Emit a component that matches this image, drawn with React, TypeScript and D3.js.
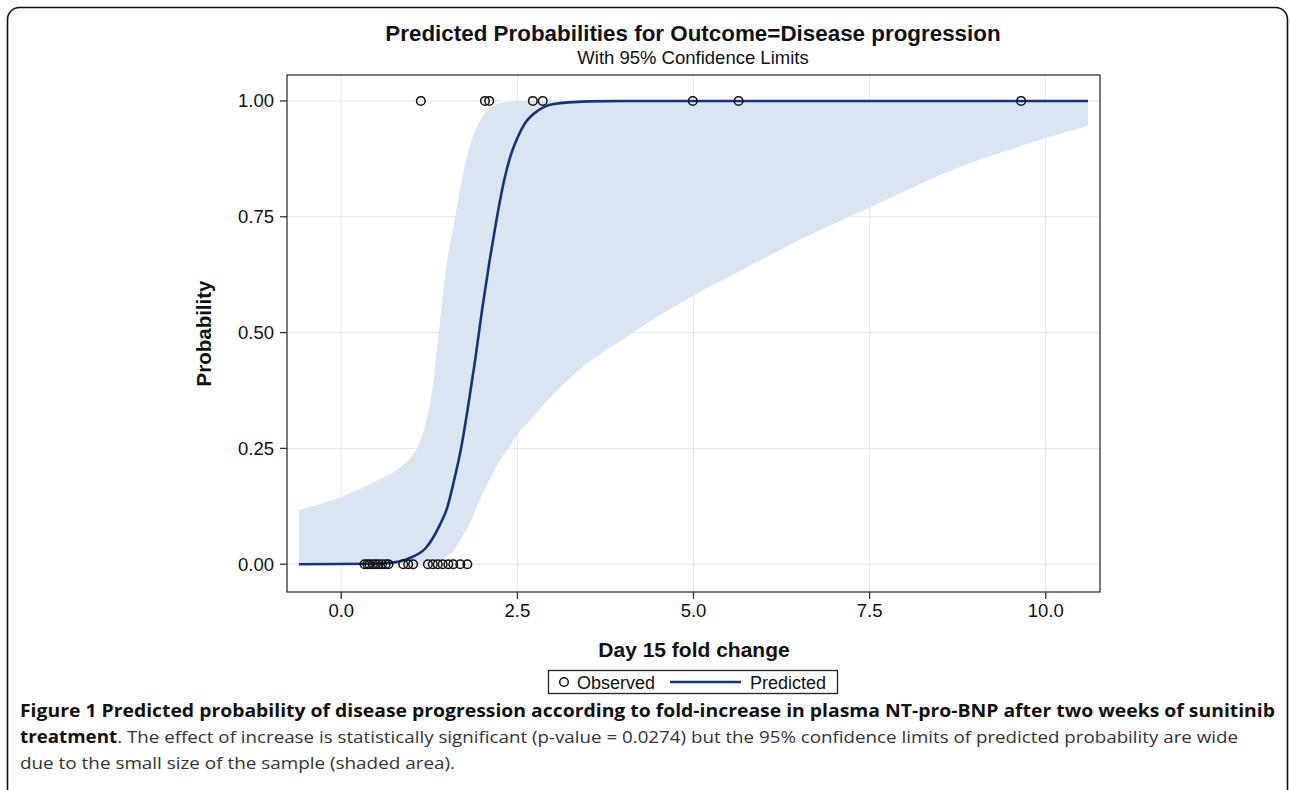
import React from "react";
import * as d3 from "d3";

const xTicks = [0, 2.5, 5, 7.5, 10];
const xTickLabels = ["0.0", "2.5", "5.0", "7.5", "10.0"];
const yTicks = [0, 0.25, 0.5, 0.75, 1];
const yTickLabels = ["0.00", "0.25", "0.50", "0.75", "1.00"];

const obsZeroX = [0.33, 0.37, 0.40, 0.45, 0.49, 0.53, 0.58, 0.63, 0.67, 0.88, 0.95, 1.02, 1.23, 1.30, 1.37, 1.44, 1.52, 1.59, 1.69, 1.79];
const obsOneX = [1.13, 2.04, 2.10, 2.72, 2.86, 4.99, 5.64, 9.65];

const predX = [-0.6, 0.5, 0.8, 1.0, 1.2, 1.4, 1.5, 1.6, 1.7, 1.8, 1.9, 2.0, 2.1, 2.2, 2.3, 2.4, 2.5, 2.6, 2.8, 3.0, 3.5, 4.0, 10.6];
const predP = [0.0, 0.001, 0.005, 0.015, 0.035, 0.085, 0.12, 0.18, 0.25, 0.34, 0.44, 0.55, 0.65, 0.74, 0.82, 0.88, 0.92, 0.95, 0.98, 0.993, 0.999, 1.0, 1.0];

const upperX = [-0.6, 0.0, 0.5, 0.8, 1.0, 1.1, 1.2, 1.3, 1.37, 1.45, 1.5, 1.61, 1.7, 1.8, 1.9, 2.0, 2.1, 2.2, 2.4, 2.7, 10.6];
const upperP = [0.117, 0.145, 0.18, 0.205, 0.233, 0.258, 0.305, 0.385, 0.48, 0.59, 0.65, 0.745, 0.82, 0.89, 0.935, 0.965, 0.983, 0.993, 0.998, 1.0, 1.0];

const lowerX = [-0.6, 1.2, 1.4, 1.6, 1.8, 2.0, 2.2, 2.5, 3.0, 3.5, 4.0, 4.5, 5.0, 5.5, 6.0, 6.5, 7.0, 7.5, 8.0, 8.5, 9.0, 9.5, 10.0, 10.6];
const lowerP = [0.0, 0.0, 0.005, 0.03, 0.08, 0.15, 0.21, 0.28, 0.365, 0.435, 0.485, 0.535, 0.58, 0.62, 0.66, 0.70, 0.735, 0.77, 0.805, 0.84, 0.87, 0.895, 0.92, 0.946];

export default function App() {
  const L = 287, R = 1100, T = 75, B = 592;
  const x = d3.scaleLinear().domain([-0.77, 10.77]).range([L, R]);
  const y = d3.scaleLinear().domain([-0.06, 1.056]).range([B, T]);

  const upperFn = d3.scaleLinear().domain(upperX).range(upperP);
  const lowerFn = d3.scaleLinear().domain(lowerX).range(lowerP);
  const allX = Array.from(new Set([...upperX, ...lowerX])).sort((a, b) => a - b);
  const band = allX.map((v) => ({ x: v, lo: lowerFn(v), hi: upperFn(v) }));

  const area = d3
    .area<{ x: number; lo: number; hi: number }>()
    .x((d) => x(d.x))
    .y0((d) => y(d.lo))
    .y1((d) => y(d.hi))
    .curve(d3.curveMonotoneX);

  const line = d3
    .line<number>()
    .x((_, i) => x(predX[i]))
    .y((d) => y(d))
    .curve(d3.curveMonotoneX);

  const font = "'Liberation Sans', Arial, sans-serif";
  const capFont = "'Open Sans', sans-serif";

  return (
    <svg width={1290} height={790} style={{ position: "absolute", left: 0, top: 0 }} fontFamily={font}>
      <rect x={0} y={0} width={1290} height={790} fill="#fff" />
      <rect x={7.5} y={7.5} width={1280} height={800} rx={12} fill="none" stroke="#111" strokeWidth={1.6} />

      <text x={693} y={41} textAnchor="middle" fontSize={22.4} fontWeight="bold" fill="#111">
        Predicted Probabilities for Outcome=Disease progression
      </text>
      <text x={693} y={64} textAnchor="middle" fontSize={18.5} fill="#111">
        With 95% Confidence Limits
      </text>

      {/* grid */}
      {xTicks.map((t) => (
        <line key={"gx" + t} x1={x(t)} x2={x(t)} y1={T} y2={B} stroke="#e6e6e6" strokeWidth={1} />
      ))}
      {yTicks.map((t) => (
        <line key={"gy" + t} x1={L} x2={R} y1={y(t)} y2={y(t)} stroke="#e6e6e6" strokeWidth={1} />
      ))}

      <path d={area(band) || ""} fill="#dae4f2" />
      <path d={line(predP) || ""} fill="none" stroke="#15337a" strokeWidth={2.6} />

      {obsZeroX.map((v, i) => (
        <circle key={"o0" + i} cx={x(v)} cy={y(0)} r={4.3} fill="none" stroke="#111" strokeWidth={1.5} />
      ))}
      {obsOneX.map((v, i) => (
        <circle key={"o1" + i} cx={x(v)} cy={y(1)} r={4.3} fill="none" stroke="#111" strokeWidth={1.5} />
      ))}

      <rect x={L} y={T} width={R - L} height={B - T} fill="none" stroke="#333" strokeWidth={1.3} />

      {yTicks.map((t, i) => (
        <g key={"yt" + t}>
          <line x1={L - 7} x2={L} y1={y(t)} y2={y(t)} stroke="#333" strokeWidth={1.3} />
          <text x={L - 13} y={y(t) + 6.5} textAnchor="end" fontSize={18.5} fill="#111">
            {yTickLabels[i]}
          </text>
        </g>
      ))}
      {xTicks.map((t, i) => (
        <g key={"xt" + t}>
          <line x1={x(t)} x2={x(t)} y1={B} y2={B + 7} stroke="#333" strokeWidth={1.3} />
          <text x={x(t)} y={B + 25} textAnchor="middle" fontSize={18.5} fill="#111">
            {xTickLabels[i]}
          </text>
        </g>
      ))}

      <text x={694} y={657} textAnchor="middle" fontSize={21} fontWeight="bold" fill="#111">
        Day 15 fold change
      </text>
      <text
        transform={`translate(211,${(T + B) / 2}) rotate(-90)`}
        textAnchor="middle"
        fontSize={20.5}
        fontWeight="bold"
        fill="#111"
      >
        Probability
      </text>

      {/* legend */}
      <rect x={548.5} y={670.5} width={289} height={23} fill="#fff" stroke="#222" strokeWidth={1.3} />
      <circle cx={564} cy={682} r={4.3} fill="none" stroke="#111" strokeWidth={1.5} />
      <text x={577} y={688.5} fontSize={18} fill="#111">Observed</text>
      <line x1={670} x2={741} y1={682} y2={682} stroke="#15337a" strokeWidth={2.6} />
      <text x={750} y={688.5} fontSize={18} fill="#111">Predicted</text>

      {/* caption */}
      <text x={20} y={717} fontFamily={capFont} fontSize={17} fontWeight="bold" fill="#111" textLength={1255} lengthAdjust="spacingAndGlyphs">
        Figure 1 Predicted probability of disease progression according to fold-increase in plasma NT-pro-BNP after two weeks of sunitinib
      </text>
      <text x={20} y={743} fontFamily={capFont} fontSize={17} fill="#333" textLength={1218} lengthAdjust="spacingAndGlyphs">
        <tspan fontWeight="bold" fill="#111">treatment</tspan>
        <tspan>. The effect of increase is statistically significant (p-value = 0.0274) but the 95% confidence limits of predicted probability are wide</tspan>
      </text>
      <text x={20} y={769} fontFamily={capFont} fontSize={17} fill="#333" textLength={435} lengthAdjust="spacingAndGlyphs">
        due to the small size of the sample (shaded area).
      </text>
    </svg>
  );
}
